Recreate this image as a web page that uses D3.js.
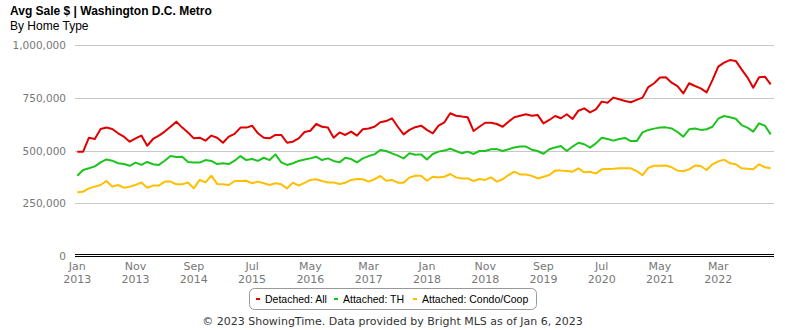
<!DOCTYPE html>
<html>
<head>
<meta charset="utf-8">
<script src="https://cdn.jsdelivr.net/npm/d3@7"></script>
<style>
body { margin: 0; background: #fff; }
svg { display: block; }
</style>
</head>
<body>
<svg id="chart" width="785" height="330"></svg>
<script>
const seriesNames = ["Detached: All", "Attached: TH", "Attached: Condo/Coop"];
const seriesColors = ["#e00000", "#1ec41e", "#ffbf00"];

const detached = [497,497,563,557,604,611,604,584,568,544,560,573,525,557,573,592,615,639,611,588,
560,563,549,573,563,539,568,581,611,611,620,584,563,560,576,576,539,544,560,590,
596,628,615,611,563,588,576,592,573,603,607,615,636,642,655,615,579,600,613,620,
600,584,620,636,679,667,663,660,595,615,634,634,628,615,639,660,667,674,667,671,
631,647,666,655,674,652,691,702,683,697,734,729,753,745,737,731,742,753,803,821,
848,849,824,808,773,821,808,797,778,836,900,919,931,927,887,849,800,849,852,816].map(v => v * 1000);

const attachedTH = [383,410,418,427,446,460,454,442,438,430,445,434,448,437,434,454,476,472,473,448,
445,445,457,453,438,442,438,454,476,457,462,453,468,457,484,446,434,442,453,460,
465,473,457,465,453,446,468,462,446,465,476,484,505,500,489,478,465,489,482,484,
460,486,497,502,511,500,489,497,486,500,500,508,509,500,508,517,521,521,506,500,
487,508,517,524,500,521,539,532,516,536,563,557,549,557,562,547,547,588,600,606,
611,612,607,590,568,603,607,600,603,615,653,666,660,653,623,611,592,631,620,579].map(v => v * 1000);

const attachedCondo = [304,307,323,331,339,358,331,339,326,331,339,351,326,336,336,355,355,342,342,351,
323,363,351,383,344,342,339,358,358,359,347,355,347,339,347,342,323,350,336,349,
363,366,358,351,351,344,350,363,367,366,355,366,382,359,363,350,350,374,383,383,
359,378,374,378,391,375,370,370,358,367,363,375,355,366,386,402,389,389,382,370,
378,386,407,407,405,402,418,399,402,393,413,415,416,418,418,418,405,386,420,430,
430,431,423,407,404,413,431,429,410,437,451,459,442,437,418,416,413,437,423,418].map(v => v * 1000);

const xTickIndex = [0,10,20,30,40,50,60,70,80,90,100,110];
const xTickMonth = ["Jan","Nov","Sep","Jul","May","Mar","Jan","Nov","Sep","Jul","May","Mar"];
const xTickYear = ["2013","2013","2014","2015","2016","2017","2018","2018","2019","2020","2021","2022"];
const yTicks = [0, 250000, 500000, 750000, 1000000];

const svg = d3.select("#chart");
const x = d3.scaleLinear().domain([0, 119]).range([77.3, 770.7]);
const y = d3.scaleLinear().domain([0, 1000000]).range([256.5, 45.5]);

// Title
svg.append("text").attr("x", 10).attr("y", 15)
  .style("font-family", "'Liberation Sans', Arial, sans-serif")
  .style("font-size", "12px").style("font-weight", "bold").attr("fill", "#000")
  .text("Avg Sale $ | Washington D.C. Metro");
svg.append("text").attr("x", 10).attr("y", 29.5)
  .style("font-family", "'Liberation Sans', Arial, sans-serif")
  .style("font-size", "12px").attr("fill", "#000")
  .text("By Home Type");

// Gridlines
svg.append("g").selectAll("line").data(yTicks.filter(d => d > 0)).join("line")
  .attr("x1", 75).attr("x2", 774)
  .attr("y1", d => Math.round(y(d) - 0.5) + 0.5).attr("y2", d => Math.round(y(d) - 0.5) + 0.5)
  .attr("stroke", "#c8c8c8").attr("stroke-width", 1);

// Axis double line
svg.append("line").attr("x1", 75).attr("x2", 774).attr("y1", y(0) - 2).attr("y2", y(0) - 2)
  .attr("stroke", "#000").attr("stroke-width", 1);
svg.append("line").attr("x1", 75).attr("x2", 774).attr("y1", y(0)).attr("y2", y(0))
  .attr("stroke", "#000").attr("stroke-width", 1);

// Y tick labels
const fmt = d3.format(",");
svg.append("g").selectAll("text").data(yTicks).join("text")
  .attr("x", 66).attr("y", d => y(d)).attr("dy", "0.35em")
  .attr("text-anchor", "end")
  .style("font-family", "'DejaVu Sans', sans-serif").style("font-size", "10.5px")
  .attr("fill", "#777")
  .text(d => fmt(d));

// X tick labels
const xl = svg.append("g").selectAll("text").data(xTickIndex).join("text")
  .attr("text-anchor", "middle")
  .style("font-family", "'DejaVu Sans', sans-serif").style("font-size", "11px")
  .attr("fill", "#777");
xl.append("tspan").attr("x", d => x(d)).attr("y", 269.5).text((d, i) => xTickMonth[i]);
xl.append("tspan").attr("x", d => x(d)).attr("y", 283).text((d, i) => xTickYear[i]);

// Lines
const line = d3.line().x((d, i) => x(i)).y(d => y(d));
const allSeries = [attachedCondo, attachedTH, detached];
const allColors = [seriesColors[2], seriesColors[1], seriesColors[0]];
allSeries.forEach((s, k) => {
  svg.append("path").datum(s).attr("d", line)
    .attr("fill", "none").attr("stroke", allColors[k])
    .attr("stroke-width", 2).attr("stroke-linejoin", "round");
});

// Legend
svg.append("rect").attr("x", 249.5).attr("y", 288.5).attr("width", 287).attr("height", 21)
  .attr("rx", 5).attr("fill", "#fff").attr("stroke", "#999");
const legX = [256, 334, 413];
seriesNames.forEach((n, i) => {
  svg.append("rect").attr("x", legX[i]).attr("y", 298).attr("width", 4).attr("height", 2)
    .attr("fill", seriesColors[i]);
  svg.append("text").attr("x", legX[i] + 9).attr("y", 303)
    .style("font-family", "'Liberation Sans', Arial, sans-serif").style("font-size", "10.5px")
    .attr("fill", "#000").text(n);
});

// Footer
svg.append("text").attr("x", 392.5).attr("y", 325).attr("text-anchor", "middle")
  .style("font-family", "'DejaVu Sans', sans-serif").style("font-size", "11px")
  .attr("fill", "#333")
  .text("© 2023 ShowingTime. Data provided by Bright MLS as of Jan 6, 2023");
</script>
</body>
</html>
